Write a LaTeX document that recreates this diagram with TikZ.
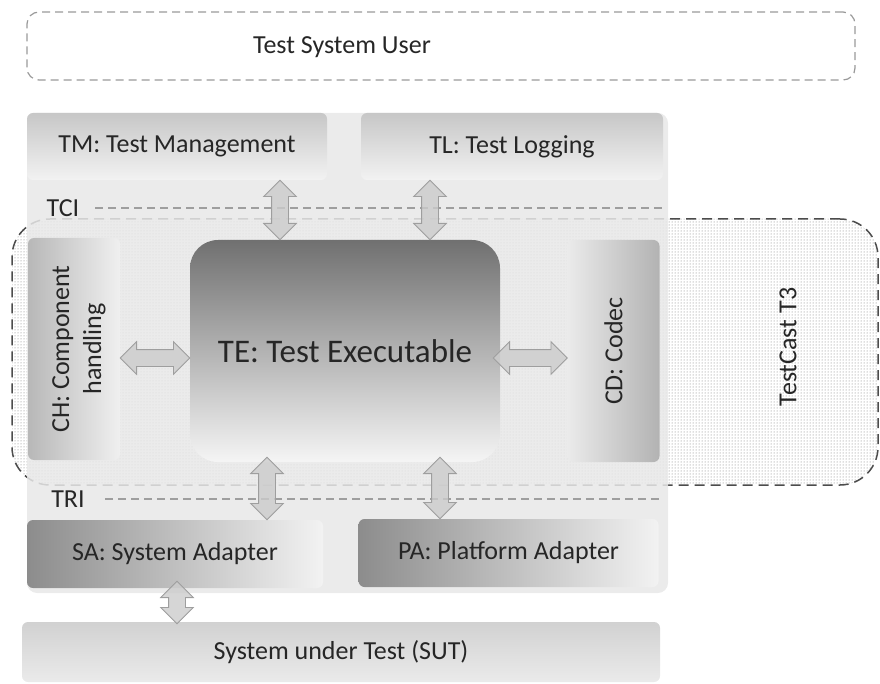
\documentclass[tikz,border=0pt]{standalone}
\usepackage{fontspec}
\setmainfont{Carlito}
\usetikzlibrary{shapes.arrows,patterns,calc,positioning}
\tikzset{
  blk/.style = {align=center, inner sep=0pt, text=black!85, rounded corners=6pt, font=\fontsize{26}{32}\selectfont},
  tmbox/.style = {blk, top color=black!22, bottom color=black!5, minimum height=67pt},
  sidebox/.style = {blk, minimum width=92pt, minimum height=222pt},
  adapter/.style = {blk, left color=black!45, right color=black!5, minimum height=68pt},
  ifline/.style = {draw=black!38, line width=1.3pt, dash pattern=on 8pt off 5pt},
  dblarrow/.style = {shape=double arrow, draw=black!38, fill=black!20, fill opacity=0.8, inner xsep=0pt,
                     inner ysep=8pt, double arrow head extend=8pt, line width=0.8pt},
}
% block arrow between two points: name, from, to
\newcommand{\dblink}[3]{%
  \path let \p1=(#2), \p2=(#3), \n1={veclen(\x2-\x1,\y2-\y1)}, \n2={atan2(\y2-\y1,\x2-\x1)} in
    node[dblarrow, minimum height=\n1, rotate=\n2] (#1) at ($(#2)!.5!(#3)$) {};}

\begin{document}
\begin{tikzpicture}[x=1pt, y=-1pt]
  \useasboundingbox (0,0) rectangle (880,684);

  % user on top
  \node[blk, draw=black!40, line width=1.2pt, dash pattern=on 8pt off 5pt, rounded corners=12pt,
        minimum width=828pt, minimum height=68pt] (tsu) at (441,46) {};
  \node[blk] (tsulbl) at (342,47) {Test System User};

  % TestCast T3 region, partly under the panel
  \node[draw=black!70, line width=1.5pt, dash pattern=on 10pt off 6pt, rounded corners=38pt,
        pattern=dots, pattern color=black!55, inner sep=0pt,
        minimum width=866pt, minimum height=266pt] (t3) at (445,352) {};
  \node[blk, rotate=90] (t3lbl) at (788,347) {TestCast T3};

  % test system panel
  \node[fill=black!9, fill opacity=0.85, rounded corners=10pt, inner sep=0pt,
        minimum width=641pt, minimum height=480pt] (panel) at (347.5,353) {};

  % entities
  \node[tmbox, minimum width=300pt] (tm) at (177,146.5) {TM: Test Management};
  \node[tmbox, minimum width=302pt] (tl) at (512,146.5) {TL: Test Logging};
  \node[sidebox, left color=black!28, right color=black!6] (ch) at (74,349) {};
  \node[blk, rotate=90] (chlbl) at (79,349) {CH: Component\\handling};
  \node[blk, font=\fontsize{33}{39}\selectfont, rounded corners=28pt, top color=black!56, bottom color=black!4,
        minimum width=310pt, minimum height=222pt] (te) at (345,351) {TE: Test Executable};
  \node[sidebox, left color=black!8, right color=black!30] (cd) at (613.5,351) {};
  \node[blk, rotate=90] (cdlbl) at (cd) {CD: Codec};
  \node[adapter, minimum width=296pt] (sa) at (175,554) {SA: System Adapter};
  \node[adapter, minimum width=300pt] (pa) at (508.5,553) {PA: Platform Adapter};
  \node[blk, top color=black!18, bottom color=black!8, minimum width=638pt, minimum height=60pt] (sut) at (341,652) {System under Test (SUT)};

  % interfaces
  \node[blk] (tci) at (63,208) {TCI};
  \node[blk] (tri) at (68,499) {TRI};
  \draw[ifline] ([xshift=16pt]tci.east) -- (tci.east -| tl.east);
  \draw[ifline] ([xshift=20pt]tri.east) -- (tri.east -| tl.east);

  % connectors
  \coordinate (x1) at (280,0);
  \coordinate (x2) at (430,0);
  \coordinate (x3) at (267,0);
  \coordinate (x4) at (440,0);
  \coordinate (x5) at (177,0);
  \coordinate (r1) at (0,358);
  \dblink{tmte}{tm.south -| x1}{te.north -| x1}
  \dblink{tlte}{tl.south -| x2}{te.north -| x2}
  \dblink{chte}{ch.east |- r1}{te.west |- r1}
  \dblink{tecd}{[xshift=-7pt]te.east |- r1}{cd.west |- r1}
  \dblink{tesa}{[yshift=5pt]te.south -| x3}{sa.north -| x3}
  \dblink{tepa}{[yshift=5pt]te.south -| x4}{pa.north -| x4}
  \dblink{sasut}{[yshift=7pt]sa.south -| x5}{[yshift=-2pt]sut.north -| x5}
\end{tikzpicture}
\end{document}
